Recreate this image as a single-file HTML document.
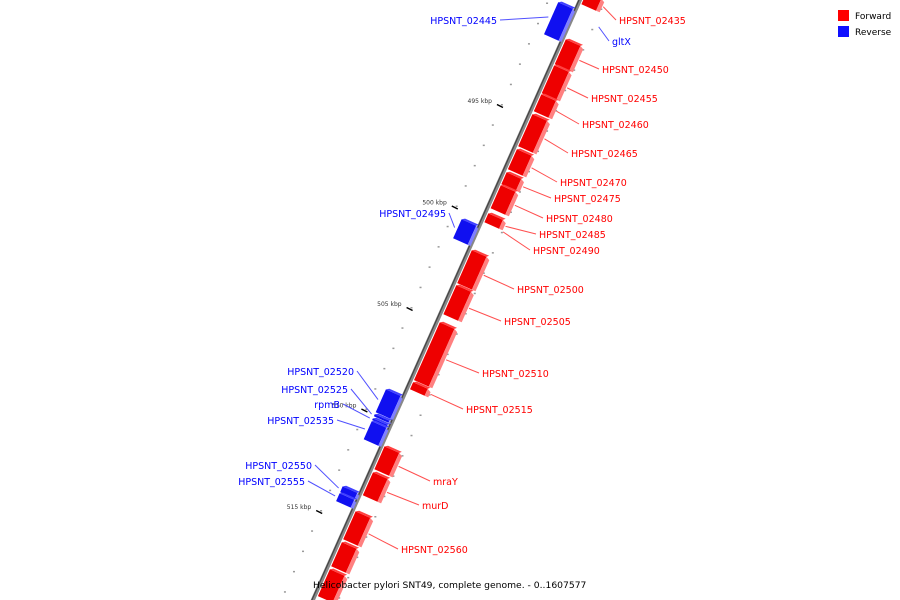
<!DOCTYPE html>
<html><head><meta charset="utf-8"><style>
html,body{margin:0;padding:0;background:#fff;overflow:hidden;}
svg{display:block;overflow:hidden;font-family:"DejaVu Sans","Liberation Sans",sans-serif;}
</style></head><body>
<svg id="map" width="900" height="600" viewBox="0 0 900 600">
<g id="layer"></g>
<g>
<rect x="838" y="10" width="11" height="11" fill="#ff0000"/>
<text x="855" y="19" font-size="9" fill="#000">Forward</text>
<rect x="838" y="26" width="11" height="11" fill="#1010ff"/>
<text x="855" y="35" font-size="9" fill="#000">Reverse</text>
</g>
<text x="313" y="588" font-size="9.2" fill="#000">Helicobacter pylori SNT49, complete genome. - 0..1607577</text>
</svg>
<script>
// gene data (kbp)
const geneNames = ["HPSNT_02435","HPSNT_02445","HPSNT_02450","HPSNT_02455","HPSNT_02460","HPSNT_02465","HPSNT_02470","HPSNT_02475","HPSNT_02480","HPSNT_02485","HPSNT_02495","HPSNT_02500","HPSNT_02505","HPSNT_02510","HPSNT_02515","HPSNT_02520","HPSNT_02525","rpmB","HPSNT_02535","mraY","murD","HPSNT_02550","HPSNT_02555","HPSNT_02560","",""];
const geneStart = [489.63,490.12,491.95,493.23,494.66,495.64,497.36,498.50,499.14,500.52,500.81,502.34,504.06,505.89,508.84,509.19,510.42,510.62,510.76,512.00,513.28,513.97,514.31,515.20,516.72,518.05];
const geneEnd   = [490.27,491.75,493.23,494.66,495.54,497.27,498.40,499.14,500.32,501.01,501.80,504.01,505.54,508.79,509.24,510.37,510.57,510.76,511.70,513.18,514.46,514.31,514.75,516.63,517.96,519.43];
const geneStrand = ["+","-","+","+","+","+","+","+","+","+","-","+","+","+","+","-","-","-","-","+","+","-","-","+","+","+"];
// label layout (text anchor positions)
const labelX = [619,497,602,591,582,571,560,554,546,539,446,517,504,482,466,354,348,340,334,433,422,312,305,401,0,0];
const labelY = [24,24,73,102,128,157,186,202,222,238,217,293,325,377,413,375,393,408,424,485,509,469,485,553,0,0];
// extra labels without drawn gene
const extraNames = ["gltX","HPSNT_02490"];
const extraKb = [491.2,501.3];
const extraStrand = ["-","+"];
const extraX = [612,533];
const extraY = [45,254];
// scale ticks
const tickKb = [495,500,505,510,515];
const tickLabels = ["495 kbp","500 kbp","505 kbp","510 kbp","515 kbp"];

const NS="http://www.w3.org/2000/svg";
const layer=document.getElementById('layer');
const th=24*Math.PI/180, C=Math.cos(th), S=Math.sin(th);
const X0=580, Y0=0;
function kbToY(k){return 104+(k-495)*20.3;}
function yToT(y,u){return (y-u*S)/C;}
function pt(t,u){return [X0+u*C-t*S, Y0+u*S+t*C];}
function ptY(y,u){return pt(yToT(y,u),u);}
function mk(tag,attrs,parent){const e=document.createElementNS(NS,tag);for(const k in attrs)e.setAttribute(k,attrs[k]);(parent||layer).appendChild(e);return e;}
function poly(pts){return pts.map(p=>p[0].toFixed(1)+','+p[1].toFixed(1)).join(' ');}

// backbone
const a=pt(-20,0),b=pt(680,0);
let e=mk('line',{x1:a[0],y1:a[1],x2:b[0],y2:b[1],stroke:'#888','stroke-width':4});


e=mk('line',{x1:a[0]-1,y1:a[1],x2:b[0]-1,y2:b[1],stroke:'#444','stroke-width':1.2});



// minor dots every kb
for(let k=490;k<=520;k++){
  const y=kbToY(k);
  const p=ptY(y,-30), q=ptY(y+6,22);
  let d=mk('rect',{x:p[0],y:p[1],width:2,height:1.5,fill:'#999'});
  
  
  d=mk('rect',{x:q[0],y:q[1],width:2,height:1.5,fill:'#999'});
  
  
}
// major ticks
tickKb.forEach((k,i)=>{
  const p=ptY(kbToY(k)+2,-30);
  let l=mk('line',{x1:p[0]-3,y1:p[1]-1.5,x2:p[0]+3,y2:p[1]+1.5,stroke:'#000','stroke-width':1.5});
  
  
  let tx=mk('text',{x:p[0]-8,y:p[1]-3,'font-size':6,fill:'#333','text-anchor':'end'});
  tx.textContent=tickLabels[i];
  
  
});

function gene(i){
  const fwd=geneStrand[i]==="+";
  const um=fwd?11:-11;
  const t1=yToT(kbToY(geneStart[i]),um)+0.6, t2=yToT(kbToY(geneEnd[i]),um)-0.6;
  const u1=fwd?3:-19, u2=fwd?19:-3;
  const g=mk('g',{});
  
  
  const body=[pt(t1,u1),pt(t1,u2),pt(t2,u2),pt(t2,u1)];
  mk('polygon',{points:poly(body),fill:fwd?'#ee0000':'#1010f0'},g);
  const side=fwd?[pt(t1,u2),pt(t1+2,u2+4),pt(t2,u2+4),pt(t2,u2)]:[pt(t1,u2),pt(t1+2,u2+3),pt(t2,u2+3),pt(t2,u2)];
  mk('polygon',{points:poly(side),fill:fwd?'#ff8080':'#8080ff'},g);
  const top=[pt(t1,u1),pt(t1-2,u1+3),pt(t1-2,u2+2),pt(t1,u2)];
  mk('polygon',{points:poly(top),fill:fwd?'#ff4040':'#4040ff'},g);
  if(geneNames[i]){
    const tm=(t1+t2)/2, anc=pt(tm,fwd?24:-22);
    const lx=labelX[i], ly=labelY[i]-4;
    const col=fwd?'#ff0000':'#0000ff';
    mk('line',{x1:anc[0],y1:anc[1],x2:fwd?lx-3:lx+3,y2:ly,stroke:fwd?'#ff5050':'#5050ff','stroke-width':1},g);
    const tx=mk('text',{x:lx,y:labelY[i],'font-size':9.5,fill:col,'text-anchor':fwd?'start':'end'},g);
    tx.textContent=geneNames[i];
  }
}
for(let i=0;i<geneNames.length;i++) gene(i);

extraNames.forEach((n,i)=>{
  const fwd=extraStrand[i]==="+";
  const u=fwd?24:28;
  const anc=ptY(kbToY(extraKb[i]),u);
  let l=mk('line',{x1:anc[0],y1:anc[1],x2:extraX[i]-3,y2:extraY[i]-4,stroke:fwd?'#ff5050':'#5050ff','stroke-width':1});
  
  
  let tx=mk('text',{x:extraX[i],y:extraY[i],'font-size':9.5,fill:fwd?'#ff0000':'#0000ff'});
  tx.textContent=n;
  
  
});
</script>
</body></html>
